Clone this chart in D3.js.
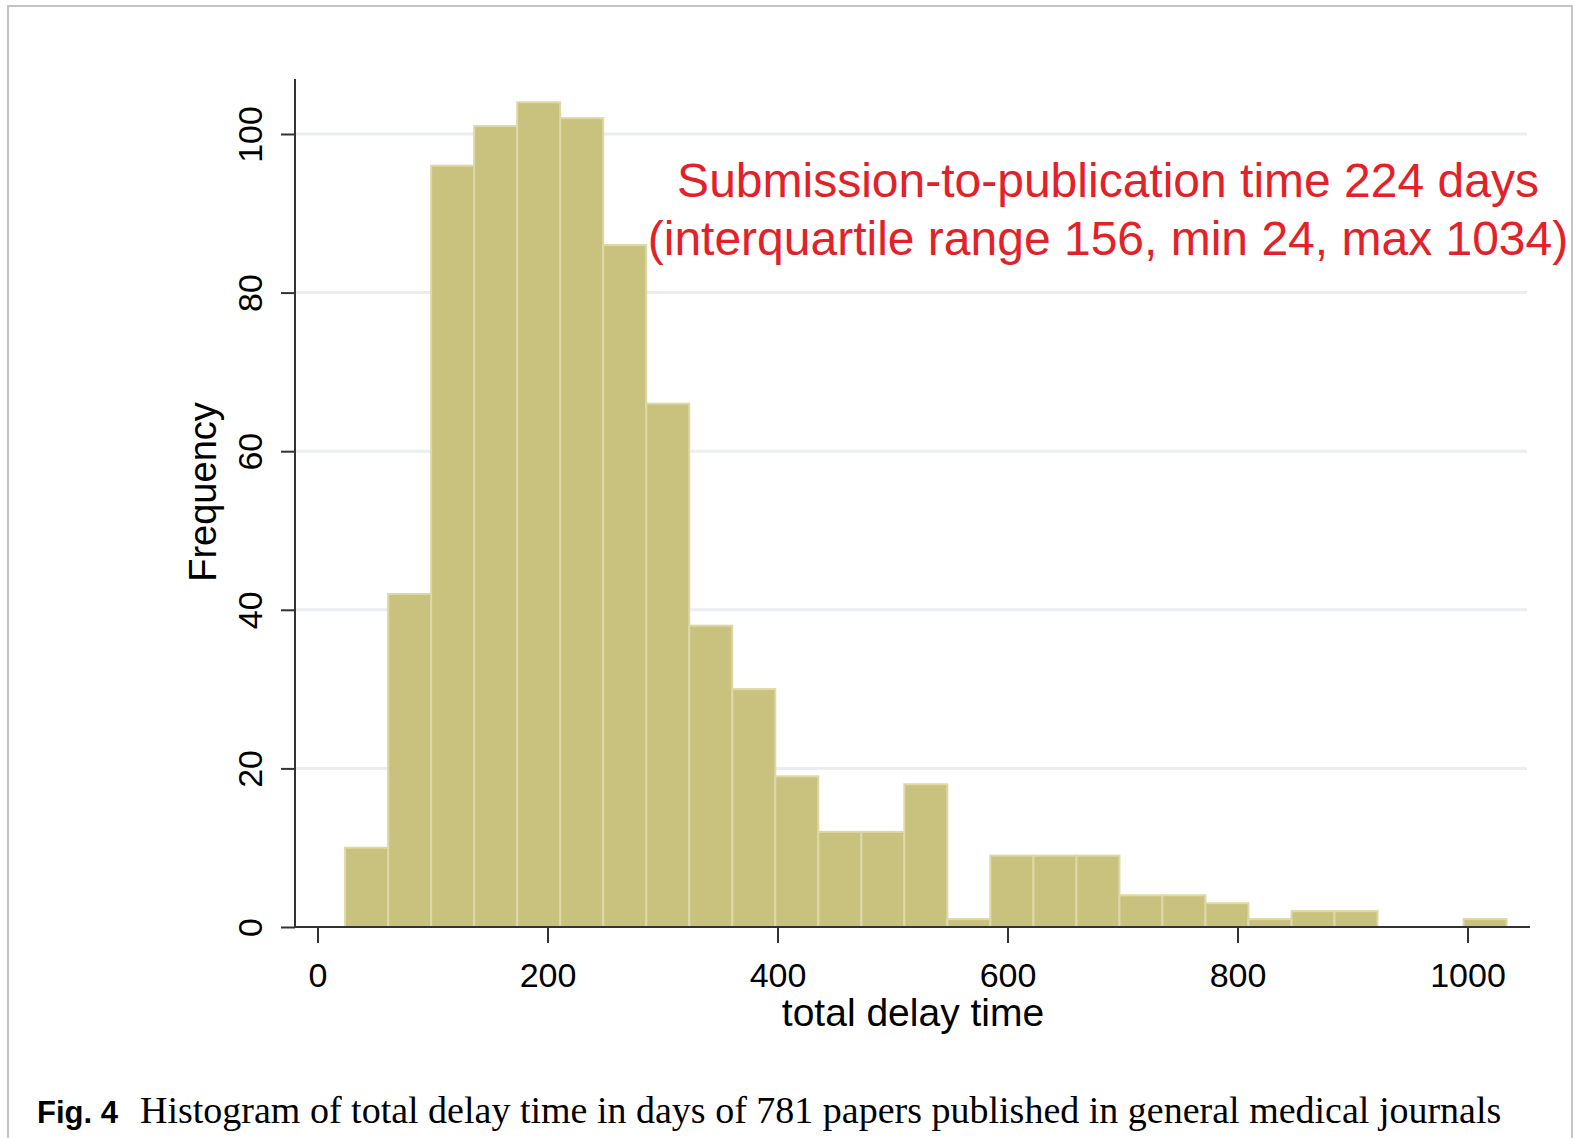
<!DOCTYPE html>
<html>
<head>
<meta charset="utf-8">
<script src="https://cdn.jsdelivr.net/npm/d3@7"></script>
<style>
  html, body { margin: 0; padding: 0; background: #fff; }
  svg { display: block; }
</style>
</head>
<body>
<div id="chart"></div>
<script>
// Histogram data: 27 bins from min to max (days).
const binMin = 24;
const binMax = 1034;
const binCounts = [10, 42, 96, 101, 104, 102, 86, 66, 38, 30, 19, 12, 12, 18, 1,
  9, 9, 9, 4, 4, 3, 1, 2, 2, 0, 0, 1];
const xTicks = [0, 200, 400, 600, 800, 1000];
const yTicks = [0, 20, 40, 60, 80, 100];
const gridValues = [20, 40, 60, 80, 100];
const noteLines = [
  "Submission-to-publication time 224 days",
  "(interquartile range 156, min 24, max 1034)",
];
const captionLabel = "Fig. 4";
const captionText = "Histogram of total delay time in days of 781 papers published in general medical journals";

const width = 1574;
const height = 1138;
const sans = "'Liberation Sans', Arial, sans-serif";

const svg = d3.select("#chart")
  .append("svg")
  .attr("width", width)
  .attr("height", height);

// Page frame.
svg.append("rect")
  .attr("x", 8).attr("y", 6)
  .attr("width", 1564).attr("height", 1150)
  .attr("fill", "none")
  .attr("stroke", "#c4c4c4")
  .attr("stroke-width", 2);

// Scales.
const plot = { left: 295, right: 1527, top: 79, bottom: 927 };
const x = d3.scaleLinear().domain([0, 1000]).range([317.5, 1467.5]);
const y = d3.scaleLinear().domain([0, 100]).range([927, 134]);

// Gridlines.
svg.append("g")
  .selectAll("line")
  .data(gridValues)
  .join("line")
  .attr("x1", plot.left)
  .attr("x2", plot.right)
  .attr("y1", (d) => y(d))
  .attr("y2", (d) => y(d))
  .attr("stroke", "#eaeef0")
  .attr("stroke-width", 3);

// Bars.
const binWidth = (binMax - binMin) / binCounts.length;
const bins = binCounts.map((c, i) => ({
  x0: binMin + i * binWidth,
  x1: binMin + (i + 1) * binWidth,
  count: c,
}));

svg.append("g")
  .selectAll("rect")
  .data(bins.filter((d) => d.count > 0))
  .join("rect")
  .attr("x", (d) => x(d.x0))
  .attr("width", (d) => x(d.x1) - x(d.x0))
  .attr("y", (d) => y(d.count))
  .attr("height", (d) => y(0) - y(d.count))
  .attr("fill", "#c9c27f")
  .attr("stroke", "#ddd8a6")
  .attr("stroke-width", 2);

// X axis.
const xAxis = svg.append("g")
  .attr("transform", `translate(0,${plot.bottom})`)
  .call(d3.axisBottom(x).tickValues(xTicks).tickFormat(d3.format("d"))
    .tickSize(16).tickPadding(20).tickSizeOuter(0));
xAxis.select(".domain").remove();
xAxis.append("line")
  .attr("x1", plot.left).attr("x2", 1530)
  .attr("stroke", "#333").attr("stroke-width", 2);
xAxis.selectAll(".tick line").attr("stroke", "#333").attr("stroke-width", 2);
xAxis.selectAll(".tick text")
  .attr("fill", "#000")
  .style("font-family", sans)
  .style("font-size", "34px");

// Y axis.
const yAxis = svg.append("g")
  .attr("transform", `translate(${plot.left},0)`)
  .call(d3.axisLeft(y).tickValues(yTicks).tickSize(14).tickSizeOuter(0));
yAxis.select(".domain").remove();
yAxis.append("line")
  .attr("y1", plot.top).attr("y2", plot.bottom + 1)
  .attr("stroke", "#333").attr("stroke-width", 2);
yAxis.selectAll(".tick line").attr("stroke", "#333").attr("stroke-width", 2);
yAxis.selectAll(".tick text")
  .attr("x", null).attr("dy", null)
  .attr("transform", "translate(-45,0) rotate(-90)")
  .attr("text-anchor", "middle")
  .attr("dy", "0.35em")
  .attr("fill", "#000")
  .style("font-family", sans)
  .style("font-size", "34px");

// Axis titles.
svg.append("text")
  .attr("x", 913)
  .attr("y", 1026)
  .attr("text-anchor", "middle")
  .style("font-family", sans)
  .style("font-size", "39px")
  .text("total delay time");

svg.append("text")
  .attr("transform", "translate(216,492) rotate(-90)")
  .attr("text-anchor", "middle")
  .style("font-family", sans)
  .style("font-size", "38px")
  .text("Frequency");

// Red note.
svg.append("g")
  .selectAll("text")
  .data(noteLines)
  .join("text")
  .attr("x", 1108)
  .attr("y", (d, i) => 197 + i * 58)
  .attr("text-anchor", "middle")
  .attr("fill", "#e42128")
  .style("font-family", sans)
  .style("font-size", "48px")
  .text((d) => d);

// Caption.
const caption = svg.append("text")
  .attr("x", 37)
  .attr("y", 1123);
caption.append("tspan")
  .style("font-family", sans)
  .style("font-weight", "bold")
  .style("font-size", "31px")
  .text(captionLabel);
caption.append("tspan")
  .attr("x", 140)
  .style("font-family", "'Liberation Serif', 'Times New Roman', serif")
  .style("font-size", "38px")
  .text(captionText);
</script>
</body>
</html>
